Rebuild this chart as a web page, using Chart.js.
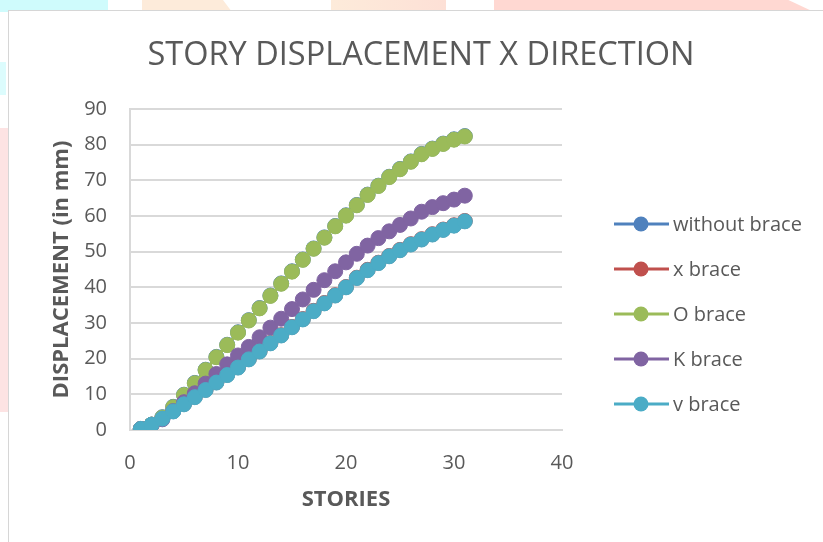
<!DOCTYPE html>
<html>
<head>
<meta charset="utf-8">
<title>Story displacement X direction</title>
<script src="https://cdn.jsdelivr.net/npm/chart.js@4.4.1/dist/chart.umd.min.js"></script>
<style>
  html, body { margin: 0; padding: 0; width: 823px; height: 542px; overflow: hidden; background: #fff; }
  .bg { position: absolute; }
  #box { position: absolute; left: 8px; top: 10px; width: 824px; height: 531px; background: #fff;
         border-left: 1px solid #d6d6d6; border-top: 1px solid #d6d6d6; }
  #box canvas { display: block; }
</style>
</head>
<body>
<!-- page backdrop peeking out around the chart frame -->
<div class="bg" style="left:0;top:0;width:108px;height:12px;background:#cffbfc"></div>
<div class="bg" style="left:0;top:62px;width:6px;height:33px;background:#dcfcfd"></div>
<div class="bg" style="left:142px;top:0;width:90px;height:12px;background:#fdebda;clip-path:polygon(0 0,90% 0,100% 100%,0 100%)"></div>
<div class="bg" style="left:331px;top:0;width:115px;height:12px;background:linear-gradient(90deg,#fdebda,#fde0d6)"></div>
<div class="bg" style="left:494px;top:0;width:320px;height:12px;background:#ffd8d2;clip-path:polygon(0 0,92% 0,100% 100%,0 100%)"></div>
<div class="bg" style="left:0;top:128px;width:8px;height:284px;background:#fde3e3"></div>

<div id="box"><canvas id="myChart" width="824" height="531"></canvas></div>

<script>
const stories = [1, 2, 3, 4, 5, 6, 7, 8, 9, 10, 11, 12, 13, 14, 15, 16, 17, 18, 19, 20,
                 21, 22, 23, 24, 25, 26, 27, 28, 29, 30, 31];

// displacement in mm for each bracing system
const withoutBrace = [0.3, 1.5, 3.6, 6.5, 9.9, 13.2, 16.9, 20.5, 23.9, 27.4, 30.8, 34.2, 37.7, 41.1, 44.5, 47.8,
                      50.9, 54.0, 57.2, 60.2, 63.1, 66.0, 68.5, 71.0, 73.2, 75.3, 77.4, 78.9, 80.3, 81.5, 82.4];
const xBrace = [0.3, 1.5, 3.3, 5.3, 7.3, 9.3, 11.3, 13.4, 15.5, 17.6, 19.9, 22.1, 24.4, 26.6, 28.9, 31.1,
                33.4, 35.6, 37.8, 40.1, 42.7, 44.9, 46.9, 48.8, 50.5, 52.1, 53.5, 54.9, 56.2, 57.4, 58.6];
const oBrace = [0.3, 1.5, 3.5, 6.4, 9.8, 13.1, 16.8, 20.4, 23.8, 27.3, 30.7, 34.1, 37.6, 41.0, 44.4, 47.7,
                50.8, 53.9, 57.1, 60.1, 63.0, 65.9, 68.4, 70.9, 73.1, 75.2, 77.3, 78.8, 80.2, 81.4, 82.3];
const kBrace = [0.3, 1.4, 3.0, 5.3, 7.8, 10.3, 13.0, 15.7, 18.4, 20.9, 23.3, 26.0, 28.7, 31.2, 33.9, 36.6,
                39.3, 42.0, 44.5, 47.0, 49.4, 51.7, 53.8, 55.7, 57.5, 59.3, 61.2, 62.5, 63.6, 64.6, 65.7];
const vBrace = [0.3, 1.5, 3.2, 5.2, 7.2, 9.2, 11.2, 13.3, 15.4, 17.5, 19.8, 22.0, 24.3, 26.5, 28.8, 31.0,
                33.3, 35.5, 37.7, 40.0, 42.6, 44.8, 46.8, 48.7, 50.4, 52.0, 53.4, 54.8, 56.1, 57.3, 58.5];

const seriesNames = ['without brace', 'x brace', 'O brace', 'K brace', 'v brace'];
const seriesValues = [withoutBrace, xBrace, oBrace, kBrace, vBrace];
const seriesColors = ['#4f81bd', '#c0504d', '#9bbb59', '#8064a2', '#4bacc6'];

const xTicks = [0, 10, 20, 30, 40];
const yTicks = [0, 10, 20, 30, 40, 50, 60, 70, 80, 90];

const textColor = '#595959';
const gridColor = '#d9d9d9';

const datasets = seriesNames.map(function(name, i){
    return {
        label: name,
        data: stories.map(function(s, j){ return {x: s, y: seriesValues[i][j]}; }),
        borderColor: seriesColors[i],
        backgroundColor: seriesColors[i],
        pointBackgroundColor: seriesColors[i],
        pointBorderColor: seriesColors[i],
        pointBorderWidth: 1,
        pointRadius: 7.5,
        pointHoverRadius: 7.5,
        borderWidth: 3,
        tension: 0,
        order: seriesNames.length - i   // later series sit on top
    };
});

// legend on the right: short line with a marker in the middle, then the name
const lineLegend = {
    id: 'lineLegend',
    afterDraw(chart){
        const {ctx, chartArea} = chart;
        ctx.save();
        ctx.font = '20px "Open Sans"';
        ctx.textBaseline = 'middle';
        chart.data.datasets.forEach(function(ds, i){
            const y = chartArea.top + 115 + i * 45;
            const x0 = chartArea.right + 52;
            ctx.strokeStyle = ds.borderColor;
            ctx.lineWidth = 3;
            ctx.beginPath();
            ctx.moveTo(x0, y);
            ctx.lineTo(x0 + 55, y);
            ctx.stroke();
            ctx.fillStyle = ds.borderColor;
            ctx.beginPath();
            ctx.arc(x0 + 27, y, 7.5, 0, Math.PI * 2);
            ctx.fill();
            ctx.fillStyle = textColor;
            ctx.fillText(ds.label, x0 + 59, y + 1);
        });
        ctx.restore();
    }
};

const ctx = document.getElementById('myChart').getContext('2d');
const myChart = new Chart(ctx, {
    type: 'line',
    data: { datasets: datasets },
    plugins: [lineLegend],
    options: {
        responsive: false,
        animation: false,
        layout: { padding: 0 },
        plugins: {
            legend: { display: false },
            tooltip: { enabled: false },
            title: {
                display: true,
                text: 'STORY DISPLACEMENT X DIRECTION',
                color: textColor,
                font: { family: 'Open Sans', size: 32.5, weight: 'normal', lineHeight: 1.2 },
                padding: { top: 25, bottom: 34 }
            }
        },
        scales: {
            x: {
                type: 'linear',
                min: 0,
                max: 40,
                afterBuildTicks: function(scale){ scale.ticks = xTicks.map(function(v){ return {value: v}; }); },
                afterFit: function(scale){ scale.height = 112; },
                grid: { display: false, drawTicks: false },
                border: { display: true, color: gridColor, width: 2 },
                ticks: { color: textColor, padding: 21, font: { family: 'Open Sans', size: 20 } },
                title: {
                    display: true,
                    text: 'STORIES',
                    color: textColor,
                    font: { family: 'Open Sans', size: 22, weight: 'bold', lineHeight: 1.2 },
                    padding: { top: 0, bottom: 29 }
                }
            },
            y: {
                type: 'linear',
                position: 'left',
                min: 0,
                max: 90,
                afterBuildTicks: function(scale){ scale.ticks = yTicks.map(function(v){ return {value: v}; }); },
                afterFit: function(scale){ scale.width = 121; },
                grid: { color: gridColor, lineWidth: 2, drawTicks: false },
                border: { display: true, color: gridColor, width: 2 },
                ticks: { color: textColor, padding: 23, font: { family: 'Open Sans', size: 20 } },
                title: {
                    display: true,
                    text: 'DISPLACEMENT (in mm)',
                    color: textColor,
                    font: { family: 'Open Sans', size: 22, weight: 'bold', lineHeight: 1.2 },
                    padding: { top: 40, bottom: 0 }
                }
            },
            // empty axis that keeps room for the legend on the right
            legendRoom: {
                type: 'linear',
                position: 'right',
                afterFit: function(scale){ scale.width = 271; },
                grid: { display: false, drawTicks: false },
                border: { display: false },
                ticks: { display: false }
            }
        }
    }
});
</script>
</body>
</html>
